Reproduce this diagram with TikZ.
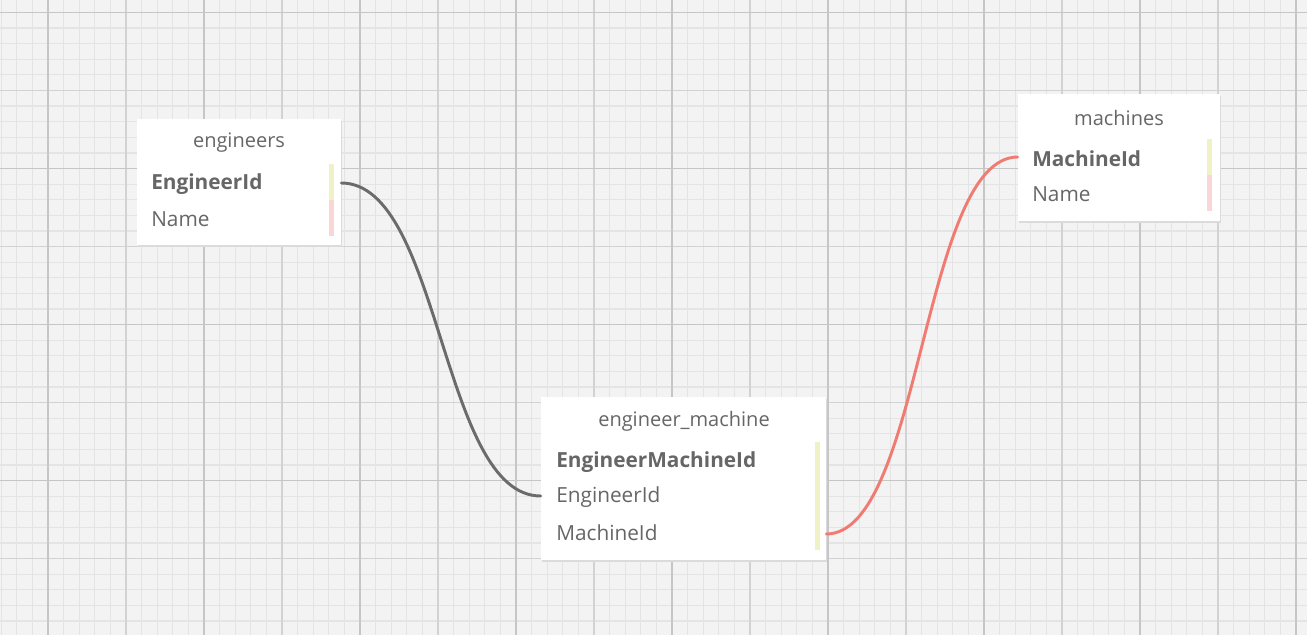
\documentclass[tikz,border=0pt]{standalone}
\usepackage{fontspec}
\setmainfont{Open Sans}
\usepackage{xcolor}
\usepackage{tikz}

\definecolor{canvasbg}{HTML}{F3F3F3}
\definecolor{gridminor}{HTML}{E4E4E4}
\definecolor{gridmid}{HTML}{D2D2D2}
\definecolor{gridmajor}{HTML}{C6C6C6}
\definecolor{fieldtext}{HTML}{666666}
\definecolor{keybar}{HTML}{F1F1C6}
\definecolor{refbar}{HTML}{FAD6D6}
\definecolor{linkgray}{HTML}{6B6B6B}
\definecolor{linkred}{HTML}{F07B72}

\tikzset{
  tablebox/.style={draw=none, fill=white, inner sep=0pt},
  tableshadow/.style={fill=black!14, draw=none},
  tabletitle/.style={inner sep=0pt, text=fieldtext, font=\fontsize{15pt}{18pt}\selectfont},
  fieldname/.style={anchor=west, inner sep=0pt, text=fieldtext, font=\fontsize{15.6pt}{18pt}\selectfont},
  keyname/.style={fieldname, font=\fontsize{15.6pt}{18pt}\selectfont\bfseries},
  link/.style={line width=2.2pt, line cap=round}
}

\begin{document}
\begin{tikzpicture}[x=0.75pt, y=-0.75pt]

        % 0. CANVAS AND GRID
        \fill[canvasbg] (0,0) rectangle (1307,635);
        \useasboundingbox (0,0) rectangle (1307,635);
        \foreach \i in {0,...,84} {
            \draw[gridminor, line width=0.9pt] ({1.2+15.6*\i},0) -- ({1.2+15.6*\i},635);
        }
        \foreach \i in {0,...,41} {
            \draw[gridminor, line width=0.9pt] (0,{-3.1+15.6*\i}) -- (1307,{-3.1+15.6*\i});
        }
        \foreach \i in {0,...,17} {
            \draw[gridmid, line width=1.2pt] ({-30+78*\i},0) -- ({-30+78*\i},635);
        }
        \foreach \i in {0,...,8} {
            \draw[gridmid, line width=1.2pt] (0,{12.5+78*\i}) -- (1307,{12.5+78*\i});
        }
        \foreach \i in {0,...,8} {
            \draw[gridmajor, line width=1.3pt] ({48+156*\i},0) -- ({48+156*\i},635);
        }
        \foreach \i in {0,...,4} {
            \draw[gridmajor, line width=1.3pt] (0,{12.5+156*\i}) -- (1307,{12.5+156*\i});
        }

        % 1. ENGINEERS TABLE (top left)
        \fill[tableshadow] (138,121) rectangle (342,247);
        \node[tablebox, minimum width=153pt, minimum height=94.5pt] (engineers) at (239,182) {};
        \node[tabletitle] (engTitle) at (239,143) {engineers};
        \node[keyname] (engId) at (151,184) {EngineerId};
        \node[fieldname] (engName) at (151,219) {Name};
        \fill[keybar] (329,164) rectangle (334,200);
        \fill[refbar] (329,200) rectangle (334,236);

        % 2. MACHINES TABLE (top right)
        \fill[tableshadow] (1019,96) rectangle (1221,223);
        \node[tablebox, minimum width=151.5pt, minimum height=95.25pt] (machines) at (1119,157.5) {};
        \node[tabletitle] (macTitle) at (1119,118) {machines};
        \node[keyname] (macId) at (1032,159) {MachineId};
        \node[fieldname] (macName) at (1032,194) {Name};
        \fill[keybar] (1207,139) rectangle (1212,175);
        \fill[refbar] (1207,175) rectangle (1212,211);

        % 3. JOIN TABLE (bottom middle)
        \fill[tableshadow] (542,399) rectangle (827,562);
        \node[tablebox, minimum width=213.75pt, minimum height=122.25pt] (engMac) at (683.5,478.5) {};
        \node[tabletitle] (emTitle) at (684,421) {engineer\_machine};
        \node[keyname] (emId) at (556,462) {EngineerMachineId};
        \node[fieldname] (emEngId) at (556,497) {EngineerId};
        \node[fieldname] (emMacId) at (556,533) {MachineId};
        \fill[keybar] (815,442) rectangle (820,550);

        % 4. RELATIONS
        \draw[link, linkgray] (engineers.east |- 0,183) .. controls +(100,0) and +(-100,0) .. (engMac.west |- 0,496);
        \draw[link, linkred] (engMac.east |- 0,534) .. controls +(95,0) and +(-95,0) .. (machines.west |- 0,157);

\end{tikzpicture}
\end{document}
